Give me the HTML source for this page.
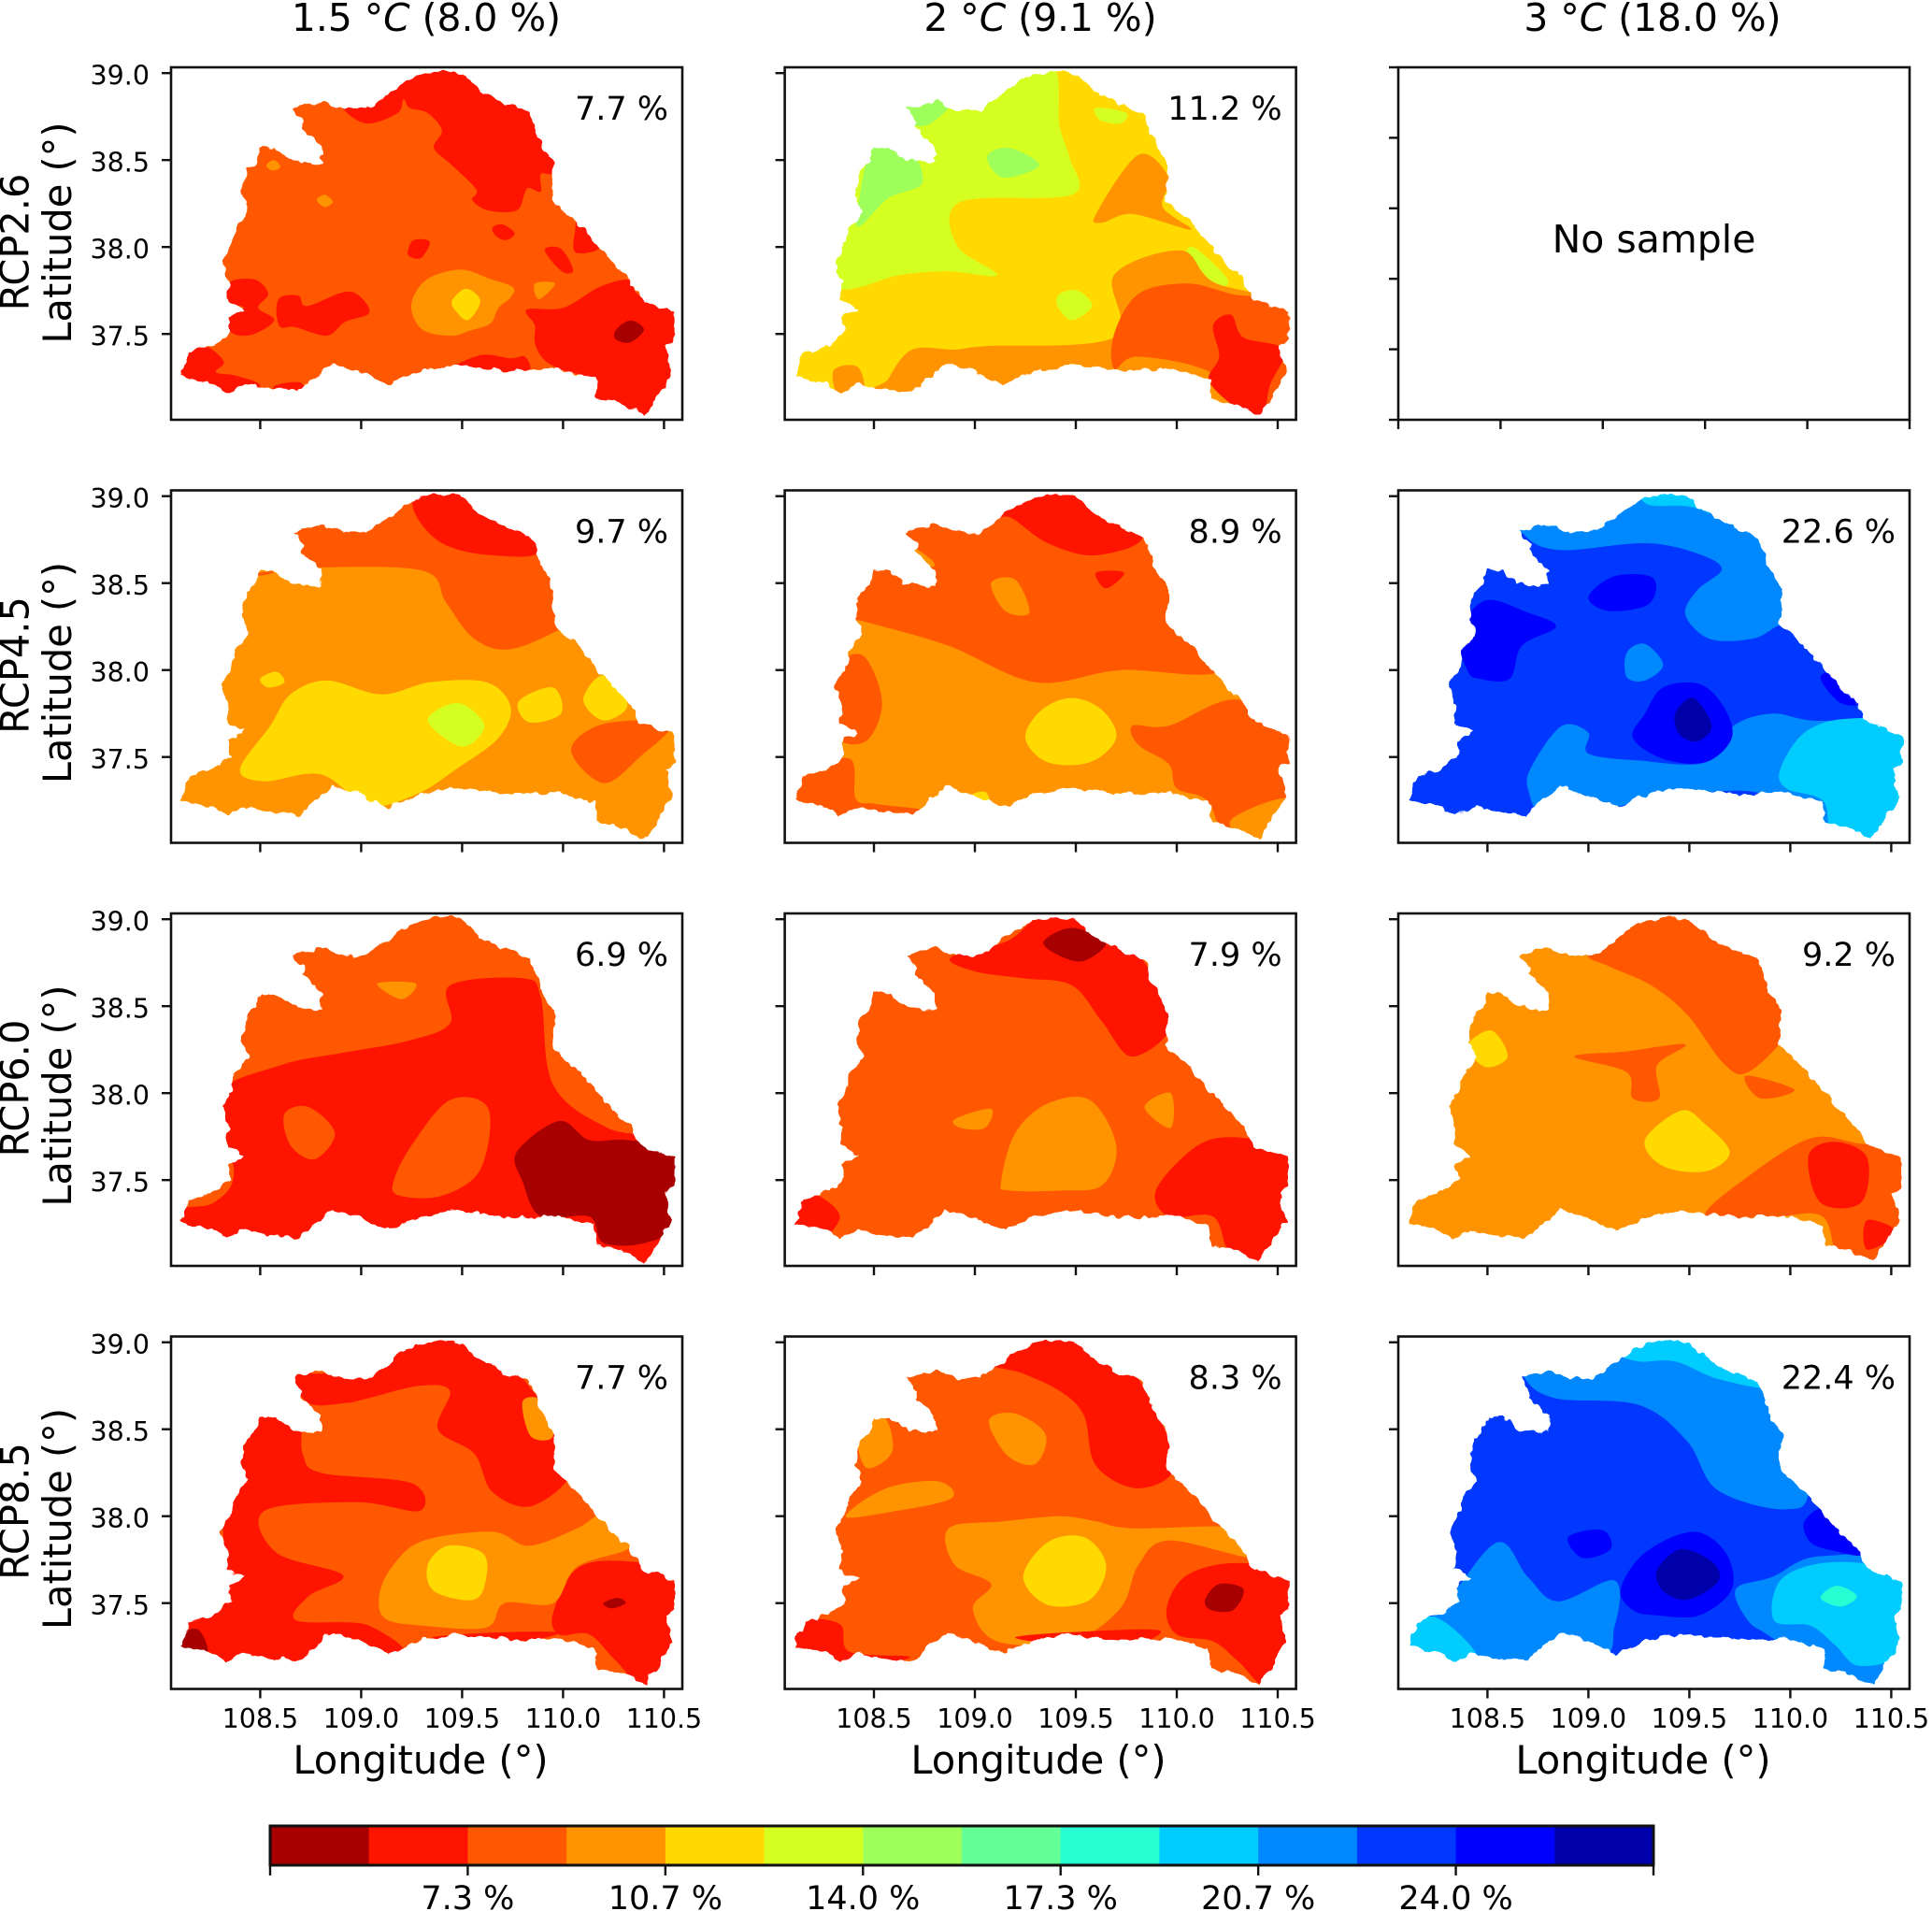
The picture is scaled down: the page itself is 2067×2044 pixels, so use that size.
<!DOCTYPE html>
<html lang="en">
<head>
<meta charset="utf-8">
<title>Contour maps by warming level and RCP</title>
<style>
html,body{margin:0;padding:0;background:#fff}
svg{display:block}
text{font-family:"DejaVu Sans","Liberation Sans",sans-serif;fill:#000}
</style>
</head>
<body>
<svg id="figure" xmlns="http://www.w3.org/2000/svg" width="2067" height="2044" viewBox="0 0 2067 2044">
<defs>
<filter id="jag" x="-5%" y="-5%" width="110%" height="110%" color-interpolation-filters="sRGB">
<feTurbulence type="fractalNoise" baseFrequency="0.09" numOctaves="2" seed="3"/>
<feDisplacementMap in="SourceGraphic" scale="9" xChannelSelector="R" yChannelSelector="G"/>
</filter>
</defs>
<rect x="0" y="0" width="2067" height="2044" fill="#fff"/>
</svg>
<script>
const levelColors = ['#a80000','#ff1400','#ff5800','#ff9400','#ffd900','#d4ff21','#9eff5a','#64ff96','#26ffd2','#00ccff','#0088ff','#0038ff','#0000ff','#0000aa'];
const lonTicks = [108.5,109.0,109.5,110.0,110.5];
const lonTickLabels = ['108.5','109.0','109.5','110.0','110.5'];
const latTicks = [39.0,38.5,38.0,37.5];
const latTickLabels = ['39.0','38.5','38.0','37.5'];
const emptyTicks = [0,0.2,0.4,0.6,0.8,1.0];
const columnWarming = ['1.5 ','2 ','3 '];
const columnShares = ['(8.0 %)','(9.1 %)','(18.0 %)'];
const rowNames = ['RCP2.6','RCP4.5','RCP6.0','RCP8.5'];
const panelPercents = [['7.7 %','11.2 %',''],['9.7 %','8.9 %','22.6 %'],['6.9 %','7.9 %','9.2 %'],['7.7 %','8.3 %','22.4 %']];
const colorbarTickIndex = [0,2,4,6,8,10,12,14];
const colorbarTickLabels = ['','7.3 %','10.7 %','14.0 %','17.3 %','20.7 %','24.0 %',''];

const basinLon = [108.108,108.152,108.231,108.309,108.354,108.343,108.422,108.332,108.343,108.309,108.354,108.377,108.444,108.41,108.433,108.478,108.5,108.578,108.646,108.758,108.803,108.803,108.702,108.713,108.657,108.803,108.915,109.027,109.139,109.206,109.285,109.397,109.498,109.587,109.722,109.834,109.901,109.957,109.946,110.081,110.238,110.327,110.383,110.552,110.552,110.507,110.54,110.462,110.406,110.305,110.17,110.159,109.98,109.744,109.453,109.296,109.139,108.982,108.859,108.691,108.556,108.422,108.332,108.265];
const basinLat = [37.251,37.394,37.416,37.457,37.511,37.591,37.645,37.699,37.797,37.923,38.004,38.111,38.201,38.299,38.443,38.487,38.577,38.568,38.505,38.478,38.487,38.577,38.685,38.72,38.796,38.837,38.792,38.792,38.882,38.944,38.989,39.014,38.998,38.9,38.819,38.774,38.577,38.47,38.272,38.129,37.914,37.815,37.699,37.627,37.466,37.43,37.269,37.125,37.03,37.09,37.125,37.242,37.296,37.287,37.323,37.287,37.211,37.287,37.332,37.17,37.179,37.215,37.161,37.215];

const baseLevels = [[2,4,null],[3,3,11],[2,2,3],[2,2,11]];

const shapesRcp26T15 = [
[1,[108.915,38.79,109.03,38.71,109.18,38.77,109.21,38.85,109.24,38.8,109.33,38.77,109.4,38.67,109.36,38.57,109.45,38.47,109.57,38.33,109.55,38.27,109.63,38.21,109.77,38.21,109.81,38.31,109.83,38.34,109.89,38.32,109.89,38.42,109.96,38.43,110.02,38.6,109.9,38.85,109.6,39.08,109.2,39.08,108.95,38.85]],
[1,[109.82,37.64,110.0,37.65,110.18,37.77,110.33,37.81,110.38,37.72,110.62,37.63,110.62,36.98,110.15,36.98,110.15,37.22,109.98,37.3,109.9,37.36,109.86,37.45,109.86,37.55]],
[0,[110.26,37.52,110.31,37.57,110.36,37.57,110.4,37.52,110.33,37.45,110.26,37.47]],
[1,[108.33,37.76,108.37,37.81,108.48,37.81,108.54,37.73,108.49,37.65,108.57,37.58,108.47,37.5,108.37,37.5,108.3,37.59,108.42,37.65,108.3,37.69]],
[1,[108.58,37.63,108.6,37.71,108.69,37.72,108.73,37.66,108.91,37.74,108.99,37.72,109.04,37.62,108.92,37.57,108.83,37.49,108.67,37.54,108.6,37.54]],
[1,[109.23,37.97,109.26,38.04,109.34,38.03,109.3,37.94,109.25,37.94]],
[1,[109.65,38.11,109.7,38.13,109.76,38.08,109.72,38.04,109.67,38.06]],
[1,[109.91,37.99,109.99,37.99,110.05,37.87,110.01,37.85,109.95,37.91]],
[1,[110.06,38.1,110.08,38.16,110.18,38.0,110.06,37.97]],
[1,[109.45,37.31,109.6,37.38,109.74,37.36,109.81,37.37,109.83,37.29,109.68,37.28,109.47,37.28]],
[1,[108.05,37.25,108.13,37.4,108.23,37.43,108.32,37.34,108.28,37.28,108.38,37.26,108.5,37.2,108.38,37.1,108.2,37.1]],
[1,[108.57,37.2,108.7,37.22,108.72,37.13,108.6,37.14]],
[3,[109.25,37.63,109.27,37.74,109.35,37.83,109.5,37.87,109.63,37.82,109.75,37.77,109.74,37.71,109.68,37.65,109.64,37.56,109.54,37.52,109.45,37.49,109.31,37.52]],
[4,[109.45,37.69,109.52,37.76,109.59,37.69,109.53,37.58,109.47,37.63]],
[3,[109.86,37.79,109.96,37.79,109.88,37.7]],
[3,[108.78,38.27,108.82,38.3,108.86,38.26,108.82,38.23]],
[3,[108.53,38.47,108.57,38.5,108.6,38.46,108.56,38.44]]
];
const shapesRcp26T20 = [
[5,[109.42,38.69,109.47,38.51,109.48,38.3,108.93,38.26,108.91,38.01,109.11,37.84,108.87,37.86,108.63,37.84,108.32,37.76,108.1,38.0,108.45,38.8,108.8,39.05,109.35,39.1]],
[5,[109.6,38.8,109.75,38.77,109.72,38.71,109.62,38.73]],
[5,[110.08,38.0,110.25,37.82,110.2,37.77,110.05,37.9]],
[6,[108.64,38.82,108.89,38.85,108.78,38.71,108.68,38.71]],
[6,[108.42,38.22,108.5,38.6,108.67,38.57,108.74,38.37,108.57,38.28,108.43,38.12]],
[6,[109.06,38.52,109.17,38.57,109.32,38.47,109.14,38.4]],
[5,[109.42,37.73,109.51,37.75,109.58,37.66,109.48,37.58,109.41,37.66]],
[3,[110.56,37.62,110.18,37.8,110.02,37.98,109.69,37.84,109.69,37.48,109.05,37.43,108.9,37.41,108.69,37.41,108.57,37.24,108.5,37.05,110.65,36.98]],
[3,[108.3,37.29,108.42,37.31,108.45,37.15,108.33,37.13]],
[3,[109.6,38.19,109.81,38.53,109.96,38.4,109.93,38.23,110.07,38.1,109.78,38.19,109.63,38.14]],
[2,[109.69,37.5,109.81,37.73,110.05,37.79,110.27,37.73,110.62,37.62,110.62,36.98,110.33,36.98,110.18,37.27,109.81,37.37,109.69,37.3]],
[1,[110.18,37.55,110.27,37.61,110.33,37.48,110.53,37.41,110.46,37.2,110.42,37.0,110.3,37.07,110.16,37.23,110.21,37.37]]
];
const shapesRcp45T15 = [
[2,[108.4,38.55,108.8,38.59,109.31,38.57,109.42,38.39,109.56,38.18,109.74,38.12,110.01,38.25,110.2,38.4,110.0,39.1,108.6,39.1,108.6,38.6]],
[1,[109.26,38.92,109.3,39.08,109.57,39.08,109.88,38.7,109.65,38.66,109.4,38.73]],
[2,[110.04,37.54,110.2,37.69,110.53,37.69,110.38,37.5,110.2,37.35]],
[4,[108.4,37.43,108.55,37.68,108.65,37.86,108.83,37.94,109.1,37.86,109.34,37.93,109.62,37.93,109.74,37.79,109.68,37.61,109.47,37.43,109.28,37.29,109.04,37.22,108.8,37.4,108.52,37.36]],
[5,[109.33,37.71,109.48,37.81,109.61,37.68,109.5,37.56]],
[4,[109.78,37.82,109.95,37.9,109.99,37.75,109.83,37.7]],
[4,[110.1,37.83,110.2,37.97,110.32,37.8,110.2,37.71]],
[4,[108.5,37.95,108.58,37.99,108.62,37.93,108.54,37.9]]
];
const shapesRcp45T20 = [
[2,[108.38,38.3,108.45,38.6,108.8,38.6,108.6,38.85,109.0,39.1,110.0,39.0,110.1,38.4,110.22,38.0,109.72,38.0,109.3,37.93,108.87,38.14,108.45,38.28]],
[1,[109.08,38.85,109.2,39.08,109.5,39.08,109.83,38.78,109.6,38.66,109.36,38.73,109.17,38.88]],
[3,[109.08,38.5,109.2,38.52,109.27,38.33,109.15,38.34]],
[1,[109.6,38.56,109.74,38.56,109.65,38.47]],
[2,[108.32,38.03,108.45,38.08,108.54,37.82,108.47,37.6,108.33,37.6,108.3,37.82]],
[2,[108.05,37.25,108.13,37.4,108.38,37.49,108.41,37.26,108.51,37.23,108.78,37.18,108.38,37.1,108.15,37.13]],
[2,[109.78,37.68,109.96,37.68,110.3,37.83,110.62,37.61,110.6,37.02,110.27,37.02,110.15,37.25,110.0,37.32,109.96,37.46,109.81,37.57]],
[3,[110.27,37.14,110.56,37.26,110.53,37.0,110.36,37.0]],
[4,[109.25,37.61,109.33,37.77,109.48,37.84,109.63,37.77,109.7,37.61,109.57,37.47,109.36,37.47]],
[4,[108.98,37.28,109.05,37.3,109.07,37.24,109.0,37.22]]
];
const shapesRcp45T30 = [
[10,[108.68,38.78,108.86,38.69,109.28,38.73,109.54,38.67,109.66,38.58,109.54,38.46,109.48,38.32,109.6,38.18,109.81,38.18,109.93,38.25,110.1,38.37,110.0,39.0,109.35,39.2,108.6,39.0]],
[9,[109.26,39.03,109.4,39.08,109.6,39.08,109.88,38.83,109.68,38.87,109.5,38.94,109.3,38.95]],
[10,[108.73,37.47,108.87,37.68,109.0,37.64,109.0,37.52,109.25,37.48,109.58,37.47,109.72,37.68,109.91,37.75,110.1,37.71,110.37,37.71,110.6,37.68,110.6,36.97,110.28,36.97,109.86,37.29,109.31,37.25,108.82,37.15,108.7,37.32]],
[10,[109.19,38.1,109.28,38.15,109.37,38.03,109.28,37.94,109.19,37.96]],
[9,[109.95,37.43,110.07,37.64,110.28,37.72,110.6,37.68,110.6,37.39,110.46,37.0,110.22,37.05,110.16,37.25,109.98,37.32]],
[12,[108.4,38.0,108.36,38.21,108.49,38.4,108.7,38.33,108.84,38.25,108.67,38.14,108.61,37.95,108.46,37.95]],
[12,[109.0,38.42,109.13,38.54,109.32,38.53,109.3,38.38,109.1,38.34]],
[12,[109.22,37.61,109.28,37.75,109.37,37.9,109.55,37.92,109.67,37.79,109.71,37.61,109.58,37.47,109.37,37.49]],
[13,[109.43,37.75,109.52,37.84,109.61,37.68,109.54,37.59,109.45,37.63]],
[12,[110.15,37.95,110.22,37.98,110.36,37.82,110.25,37.81]]
];
const shapesRcp60T15 = [
[1,[109.44,38.62,109.8,38.66,109.89,38.55,109.95,38.05,110.22,37.8,110.6,37.66,110.6,36.95,108.0,36.95,108.05,37.3,108.27,37.37,108.37,37.55,108.28,37.98,108.6,38.16,108.9,38.23,109.23,38.3,109.44,38.4]],
[2,[109.16,37.49,109.25,37.7,109.44,37.96,109.63,37.91,109.59,37.56,109.4,37.41,109.19,37.41]],
[2,[108.62,37.88,108.74,37.92,108.87,37.77,108.77,37.62,108.65,37.7]],
[0,[109.77,37.66,109.98,37.84,110.13,37.73,110.32,37.73,110.6,37.66,110.6,37.27,110.41,37.14,110.2,37.14,110.13,37.29,109.89,37.29,109.8,37.49]],
[3,[109.08,38.63,109.27,38.63,109.2,38.54]]
];
const shapesRcp60T20 = [
[1,[108.88,38.78,109.17,38.88,109.4,39.1,109.65,39.05,109.83,38.77,109.98,38.41,109.78,38.21,109.63,38.41,109.48,38.62,109.24,38.66,109.0,38.7]],
[0,[109.34,38.87,109.48,38.95,109.65,38.87,109.54,38.76,109.42,38.79]],
[3,[109.13,37.49,109.2,37.77,109.36,37.94,109.57,37.96,109.7,37.7,109.63,37.47,109.42,37.44,109.17,37.44]],
[1,[109.9,37.45,110.12,37.71,110.36,37.74,110.62,37.66,110.62,37.27,110.47,37.0,110.27,37.07,110.18,37.29,109.96,37.29]],
[1,[108.03,37.3,108.17,37.43,108.33,37.3,108.23,37.15,108.1,37.2]],
[3,[108.9,37.85,109.08,37.91,109.05,37.8,108.93,37.8]],
[3,[109.84,37.92,109.97,38.0,109.97,37.8]]
];
const shapesRcp60T30 = [
[2,[109.0,38.8,109.19,38.94,109.37,39.08,109.66,39.02,109.98,38.55,109.98,38.34,109.79,38.12,109.67,38.17,109.49,38.45,109.31,38.62,109.1,38.73]],
[2,[108.93,38.21,109.19,38.24,109.48,38.28,109.34,38.16,109.35,37.97,109.22,37.97,109.19,38.12]],
[2,[109.78,38.1,110.02,38.02,109.85,37.97]],
[2,[109.58,37.29,109.79,37.52,110.1,37.74,110.34,37.71,110.6,37.66,110.6,37.27,110.45,37.0,110.25,37.02,110.16,37.29,109.92,37.29]],
[1,[110.09,37.64,110.22,37.72,110.38,37.63,110.35,37.37,110.15,37.37]],
[1,[110.38,37.27,110.53,37.2,110.38,37.1]],
[4,[109.28,37.73,109.46,37.9,109.58,37.82,109.7,37.66,109.58,37.55,109.37,37.58]],
[4,[108.4,38.27,108.52,38.36,108.6,38.21,108.49,38.15]]
];
const shapesRcp85T15 = [
[1,[108.66,38.82,108.86,38.83,109.22,39.02,109.53,39.08,109.85,38.72,110.05,38.3,109.85,38.06,109.65,38.14,109.56,38.36,109.38,38.5,109.44,38.72,109.29,38.75,109.04,38.68,108.92,38.65,108.74,38.65]],
[1,[108.43,38.58,108.68,38.58,108.71,38.36,108.8,38.25,109.25,38.19,109.29,38.03,108.98,38.08,108.52,38.03,108.58,37.79,108.91,37.66,108.74,37.54,108.68,37.4,109.04,37.37,109.16,37.15,108.0,37.15,108.02,37.51,108.31,37.47,108.32,38.04]],
[0,[108.08,37.3,108.19,37.35,108.24,37.21,108.13,37.19]],
[1,[109.95,37.44,110.07,37.7,110.32,37.74,110.62,37.65,110.62,37.22,110.43,37.0,110.26,37.17,110.13,37.32,109.98,37.32]],
[0,[110.2,37.5,110.27,37.53,110.31,37.5,110.24,37.47]],
[1,[109.35,37.3,109.65,37.33,109.98,37.33,109.7,37.26]],
[3,[109.31,37.86,109.65,37.91,109.83,37.83,110.07,37.93,110.22,38.02,110.34,37.83,110.07,37.71,109.95,37.5,109.71,37.5,109.62,37.36,109.31,37.37,109.12,37.41,109.09,37.55,109.16,37.72]],
[4,[109.33,37.72,109.43,37.83,109.6,37.79,109.62,37.65,109.56,37.52,109.36,37.57]],
[3,[109.8,38.66,109.9,38.66,109.95,38.46,109.84,38.46]]
];
const shapesRcp85T20 = [
[1,[109.05,38.9,109.42,39.08,109.65,39.0,109.83,38.75,109.99,38.3,109.81,38.16,109.6,38.29,109.54,38.58,109.42,38.72,109.24,38.82]],
[3,[109.07,38.55,109.2,38.59,109.35,38.47,109.3,38.3,109.16,38.35]],
[3,[108.87,37.93,109.14,37.97,109.42,38.0,109.6,37.97,109.78,37.93,110.33,37.93,110.39,37.76,109.96,37.86,109.81,37.72,109.72,37.47,109.48,37.28,109.11,37.28,108.99,37.47,109.08,37.61,108.9,37.72]],
[4,[109.24,37.65,109.36,37.85,109.54,37.88,109.65,37.72,109.57,37.52,109.36,37.49]],
[1,[109.95,37.47,110.05,37.66,110.3,37.73,110.62,37.65,110.62,37.22,110.47,37.0,110.3,37.17,110.18,37.28,110.0,37.32]],
[0,[110.14,37.52,110.21,37.61,110.33,37.58,110.28,37.46,110.17,37.46]],
[1,[108.05,37.26,108.13,37.4,108.33,37.38,108.38,37.22,108.68,37.19,108.38,37.12,108.15,37.17]],
[3,[108.36,38.0,108.56,38.16,108.82,38.2,108.88,38.1,108.56,38.02]],
[1,[109.2,37.3,109.6,37.34,109.92,37.34,109.7,37.24]],
[3,[108.42,38.5,108.55,38.57,108.59,38.37,108.46,38.28]]
];
const shapesRcp85T30 = [
[10,[108.67,38.82,108.83,38.68,109.25,38.64,109.49,38.43,109.64,38.15,109.98,38.04,110.1,38.2,110.1,39.1,108.6,39.1]],
[9,[109.17,38.94,109.37,39.08,109.62,38.99,109.88,38.75,109.64,38.79,109.43,38.89,109.25,38.89]],
[10,[108.08,37.22,108.3,37.51,108.55,37.85,108.7,37.65,108.85,37.51,109.13,37.63,109.13,37.37,109.0,37.15,108.15,37.1]],
[10,[109.73,37.58,109.91,37.65,110.15,37.77,110.62,37.69,110.62,37.0,110.28,37.0,109.91,37.3,109.79,37.4]],
[9,[109.92,37.4,109.95,37.63,110.16,37.73,110.46,37.71,110.6,37.58,110.55,37.22,110.34,37.14,110.22,37.26,110.1,37.37]],
[8,[110.15,37.53,110.23,37.6,110.33,37.54,110.25,37.48]],
[9,[108.05,37.33,108.24,37.42,108.45,37.19,108.28,37.1]],
[12,[109.16,37.58,109.28,37.79,109.52,37.91,109.68,37.79,109.71,37.58,109.55,37.43,109.34,37.43,109.22,37.46]],
[13,[109.34,37.69,109.46,37.81,109.62,37.73,109.64,37.62,109.49,37.52,109.37,37.57]],
[12,[108.9,37.88,109.07,37.92,109.11,37.81,108.97,37.76]],
[12,[110.07,37.97,110.19,38.04,110.36,37.79,110.22,37.8,110.1,37.85]]
];
const panelShapes = [
  [shapesRcp26T15, shapesRcp26T20, null],
  [shapesRcp45T15, shapesRcp45T20, shapesRcp45T30],
  [shapesRcp60T15, shapesRcp60T20, shapesRcp60T30],
  [shapesRcp85T15, shapesRcp85T20, shapesRcp85T30]
];

/* layout */
const NS = 'http://www.w3.org/2000/svg';
const colLeft = [183, 839.6, 1496];
const rowTop = [72, 524.5, 977, 1429.5];
const panelW = 547, panelH = 377;
const titleX = [456, 1113, 1768];
const lonLabelX = [450, 1111, 1758];
const latLabelOffset = [177, 195, 195, 195];
const ink = '#111';
const svg = document.getElementById('figure');

function xScale(col, lon) { return colLeft[col] + 95.4 + (lon - 108.5) * 216; }
function yScale(row, lat) { return rowTop[row] + 6.2 + (39 - lat) * 186; }
function make(tag, attrs, parent) {
  const el = document.createElementNS(NS, tag);
  for (const k in attrs) el.setAttribute(k, attrs[k]);
  parent.appendChild(el);
  return el;
}
/* closed Catmull-Rom curve passing through every vertex, so regions keep their full extent */
function smoothPath(col, row, flat) {
  const pts = [];
  for (let i = 0; i < flat.length; i += 2) pts.push([xScale(col, flat[i]), yScale(row, flat[i + 1])]);
  const n = pts.length;
  let d = 'M' + pts[0][0].toFixed(1) + ' ' + pts[0][1].toFixed(1);
  for (let i = 0; i < n; i++) {
    const p0 = pts[(i + n - 1) % n], p1 = pts[i], p2 = pts[(i + 1) % n], p3 = pts[(i + 2) % n];
    const c1x = p1[0] + (p2[0] - p0[0]) / 6, c1y = p1[1] + (p2[1] - p0[1]) / 6;
    const c2x = p2[0] - (p3[0] - p1[0]) / 6, c2y = p2[1] - (p3[1] - p1[1]) / 6;
    d += 'C' + c1x.toFixed(1) + ' ' + c1y.toFixed(1) + ' ' + c2x.toFixed(1) + ' ' + c2y.toFixed(1) + ' ' + p2[0].toFixed(1) + ' ' + p2[1].toFixed(1);
  }
  return d + 'Z';
}
function basinPath(col, row) {
  let d = '';
  for (let i = 0; i < basinLon.length; i++) {
    d += (i ? 'L' : 'M') + xScale(col, basinLon[i]).toFixed(1) + ' ' + yScale(row, basinLat[i]).toFixed(1);
  }
  return d + 'Z';
}
function line(x1, y1, x2, y2, parent) {
  return make('line', {x1: x1, y1: y1, x2: x2, y2: y2, stroke: ink, 'stroke-width': 2.4}, parent);
}
function label(str, x, y, size, anchor, parent) {
  const t = make('text', {x: x, y: y, 'font-size': size, 'text-anchor': anchor}, parent);
  t.textContent = str;
  return t;
}

/* column titles */
columnWarming.forEach(function (w, c) {
  const t = make('text', {x: titleX[c], y: 33, 'font-size': 40.8, 'text-anchor': 'middle'}, svg);
  
  
  const a = make('tspan', {}, t); a.textContent = w + '°';
  const b = make('tspan', {'font-style': 'italic'}, t); b.textContent = 'C';
  const s = make('tspan', {}, t); s.textContent = ' ' + columnShares[c];
});

/* panels */
rowNames.forEach(function (rowName, r) {
  const rl = label(rowName, 0, 0, 41.5, 'middle', svg);
  rl.setAttribute('transform', 'translate(30.5,' + (rowTop[r] + 187) + ') rotate(-90)');
  
  
  const yl = label('Latitude (°)', 0, 0, 41.5, 'middle', svg);
  yl.setAttribute('transform', 'translate(76,' + (rowTop[r] + latLabelOffset[r]) + ') rotate(-90)');
  
  

  colLeft.forEach(function (left, c) {
    const top = rowTop[r];
    const g = make('g', {}, svg);
    
    
    const shapes = panelShapes[r][c];

    if (shapes) {
      const id = 'mask-' + r + '-' + c;
      const mask = make('mask', {id: id, maskUnits: 'userSpaceOnUse', x: left, y: top, width: panelW, height: panelH}, g);
      make('path', {d: basinPath(c, r), fill: '#fff', filter: 'url(#jag)'}, mask);
      const map = make('g', {mask: 'url(#' + id + ')'}, g);
      
      
      const base = make('path', {d: basinPath(c, r), fill: levelColors[baseLevels[r][c]], stroke: levelColors[baseLevels[r][c]], 'stroke-width': 14}, map);
      
      
      shapes.forEach(function (s) {
        const p = make('path', {d: smoothPath(c, r, s[1]), fill: levelColors[s[0]]}, map);
        
        
      });
      lonTicks.forEach(function (v, i) {
        const x = xScale(c, v);
        const tk = line(x, top + panelH, x, top + panelH + 10, g);
        
        
        if (r === 3) {
          const tl = label(lonTickLabels[i], x, top + panelH + 41.5, 28.5, 'middle', g);
          
          
        }
      });
      latTicks.forEach(function (v, i) {
        const y = yScale(r, v);
        const tk = line(left - 10, y, left, y, g);
        
        
        if (c === 0) {
          const tl = label(latTickLabels[i], left - 23, y + 12.5, 28.5, 'end', g);
          
          
        }
      });
    } else {
      emptyTicks.forEach(function (f) {
        const tx = line(left + f * panelW, top + panelH, left + f * panelW, top + panelH + 10, g);
        
        
        const ty = line(left - 10, top + panelH - f * panelH, left, top + panelH - f * panelH, g);
        
        
      });
      const ns = label('No sample', left + panelW / 2, top + 198, 41, 'middle', g);
      
      
    }

    const frame = make('rect', {x: left, y: top, width: panelW, height: panelH, fill: 'none', stroke: ink, 'stroke-width': 2.6}, g);
    
    

    if (panelPercents[r][c]) {
      const pc = label(panelPercents[r][c], left + 532, top + 56, 35, 'end', g);
      
      
    }
    if (r === 3) {
      const xl = label('Longitude (°)', lonLabelX[c], 1897, 41.6, 'middle', g);
      
      
    }
  });
});

/* colorbar */
const cbLeft = 289, cbTop = 1953, cbW = 1480, cbH = 42;
function cbX(i) { return cbLeft + i * cbW / levelColors.length; }
const cb = make('g', {}, svg);


levelColors.forEach(function (col, i) {
  const rc = make('rect', {x: cbX(i), y: cbTop, width: cbW / levelColors.length + 0.5, height: cbH, fill: col}, cb);
  
  
});
const cbFrame = make('rect', {x: cbLeft, y: cbTop, width: cbW, height: cbH, fill: 'none', stroke: ink, 'stroke-width': 3}, cb);


colorbarTickIndex.forEach(function (idx, i) {
  const x = cbX(idx);
  const tk = line(x, cbTop + cbH, x, cbTop + cbH + 11, cb);
  
  
  if (colorbarTickLabels[i]) {
    const tl = label(colorbarTickLabels[i], x, 2042, 35, 'middle', cb);
    
    
  }
});
</script>
</body>
</html>
